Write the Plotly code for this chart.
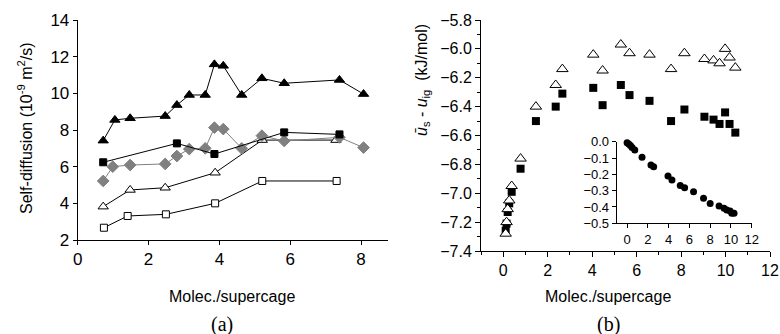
import plotly.graph_objects as go

# ---------- panel (a) data ----------
tri_f_x = [0.72, 1.05, 1.48, 2.47, 2.80, 3.15, 3.60, 3.86, 4.11, 4.63, 5.20, 5.83, 7.39, 8.07]
tri_f_y = [7.42, 8.55, 8.64, 8.76, 9.36, 9.91, 9.91, 11.58, 11.50, 9.91, 10.82, 10.55, 10.73, 9.96]

sq_f_x = [0.72, 2.80, 3.86, 5.83, 7.39]
sq_f_y = [6.24, 7.27, 6.69, 7.87, 7.76]

dia_x = [0.72, 0.99, 1.48, 2.47, 2.80, 3.15, 3.60, 3.86, 4.11, 4.63, 5.20, 5.83, 7.39, 8.07]
dia_y = [5.22, 6.00, 6.09, 6.15, 6.58, 6.96, 7.00, 8.13, 8.05, 7.00, 7.69, 7.40, 7.60, 7.04]

tri_o_x = [0.72, 1.48, 2.47, 3.88, 5.21, 7.29]
tri_o_y = [3.82, 4.73, 4.85, 5.67, 7.45, 7.45]

sq_o_x = [0.74, 1.41, 2.49, 3.88, 5.21, 7.31]
sq_o_y = [2.67, 3.31, 3.40, 4.00, 5.22, 5.22]

# ---------- panel (b) data ----------
b_x = [0.11, 0.15, 0.20, 0.27, 0.38, 0.78, 1.47, 2.36, 2.66, 4.05, 4.47, 5.29,
       5.68, 6.58, 7.55, 8.15, 9.05, 9.46, 9.73, 9.98, 10.18, 10.44]
b_tri_y = [-7.28, -7.20, -7.11, -7.05, -6.95, -6.76, -6.40, -6.25, -6.14, -6.04, -6.15, -5.97,
           -6.03, -6.04, -6.14, -6.03, -6.07, -6.08, -6.10, -6.00, -6.06, -6.13]
b_sq_y = [-7.26, -7.21, -7.13, -7.07, -6.99, -6.83, -6.50, -6.40, -6.31, -6.27, -6.39, -6.25,
          -6.32, -6.36, -6.50, -6.42, -6.47, -6.49, -6.52, -6.44, -6.52, -6.58]

ins_x = [0.0, 0.16, 0.32, 0.48, 0.74, 1.44, 2.30, 2.56, 3.94, 4.32, 5.12, 5.54, 6.40,
         7.36, 8.00, 8.86, 9.34, 9.60, 9.92, 10.08, 10.30]
ins_y = [-0.006, -0.014, -0.024, -0.035, -0.051, -0.096, -0.143, -0.153, -0.210, -0.235,
         -0.269, -0.282, -0.306, -0.347, -0.378, -0.394, -0.408, -0.418, -0.424, -0.439, -0.439]

FONT = "Arial, Liberation Sans, sans-serif"
SERIF = "Times New Roman, Liberation Serif, serif"

fig = go.Figure()

def line_trace(x, y, symbol, fill, size, lc="black", mlc="black"):
    return go.Scatter(x=x, y=y, mode="lines+markers", xaxis="x", yaxis="y",
                      line=dict(color=lc, width=1),
                      marker=dict(symbol=symbol, size=size, color=fill,
                                  line=dict(color=mlc, width=1)),
                      cliponaxis=False, showlegend=False)

fig.add_trace(line_trace(sq_o_x, sq_o_y, "square", "white", 7))
fig.add_trace(line_trace(tri_o_x, tri_o_y, "triangle-up", "white", 9))
fig.add_trace(line_trace(dia_x, dia_y, "diamond", "#808080", 9, lc="#808080", mlc="#808080"))
fig.add_trace(line_trace(sq_f_x, sq_f_y, "square", "black", 7))
fig.add_trace(line_trace(tri_f_x, tri_f_y, "triangle-up", "black", 9))

fig.add_trace(go.Scatter(x=b_x, y=b_sq_y, mode="markers", xaxis="x2", yaxis="y2",
                         marker=dict(symbol="square", size=8, color="black"),
                         cliponaxis=False, showlegend=False))
fig.add_trace(go.Scatter(x=b_x, y=b_tri_y, mode="markers", xaxis="x2", yaxis="y2",
                         marker=dict(symbol="triangle-up", size=10, color="white",
                                     line=dict(color="black", width=1)),
                         cliponaxis=False, showlegend=False))
fig.add_trace(go.Scatter(x=ins_x, y=ins_y, mode="markers", xaxis="x3", yaxis="y3",
                         marker=dict(symbol="circle", size=7, color="black"),
                         cliponaxis=False, showlegend=False))

W, H = 780, 334
def px(x): return x / W
def py(y): return 1 - y / H

def axis_common(size):
    return dict(showline=True, linecolor="black", linewidth=1, showgrid=False,
                zeroline=False, ticks="outside", tickcolor="black",
                ticklabeloverflow="allow", automargin=False,
                tickfont=dict(family=FONT, size=size, color="black"))
inset_common = dict(showline=True, linecolor="black", linewidth=1, showgrid=False,
                    zeroline=False, ticks="outside", tickcolor="black", ticklen=4,
                    automargin=False,
                    tickfont=dict(family=FONT, size=13, color="black"))

fig.update_layout(
    width=W, height=H, margin=dict(l=0, r=0, t=0, b=0, autoexpand=False),
    paper_bgcolor="white", plot_bgcolor="white",
    xaxis=dict(domain=[px(77.7), px(388)], range=[0, 8.76], anchor="y",
               tickvals=[0, 2, 4, 6, 8], ticklen=4, **axis_common(17)),
    yaxis=dict(domain=[py(240), py(20)], range=[2, 14], anchor="x",
               tickvals=[2, 4, 6, 8, 10, 12, 14], ticklen=4, **axis_common(17)),
    xaxis2=dict(domain=[px(481), px(770)], range=[-1, 12], anchor="y2",
                tickvals=[0, 2, 4, 6, 8, 10, 12], ticklen=5,
                minor=dict(dtick=1, tick0=0, ticks="outside", ticklen=3, tickcolor="black"),
                **axis_common(16)),
    yaxis2=dict(domain=[py(251), py(20)], range=[-7.4, -5.8], anchor="x2",
                tickvals=[-7.4, -7.2, -7.0, -6.8, -6.6, -6.4, -6.2, -6.0, -5.8],
                tickformat=".1f", ticklen=5,
                minor=dict(dtick=0.1, tick0=0, ticks="outside", ticklen=3, tickcolor="black"),
                **axis_common(16)),
    xaxis3=dict(domain=[px(616.7), px(751.7)], range=[-1, 12], anchor="y3",
                tickvals=[0, 2, 4, 6, 8, 10, 12], **inset_common),
    yaxis3=dict(domain=[py(223.3), py(141.7)], range=[-0.5, 0.0], anchor="x3",
                tickvals=[-0.5, -0.4, -0.3, -0.2, -0.1, 0.0], tickformat=".1f",
                **inset_common),
)

ann = [
    dict(x=px(231.7), y=py(296.7), text="Molec./supercage", font=dict(family=FONT, size=16)),
    dict(x=px(608), y=py(296.7), text="Molec./supercage", font=dict(family=FONT, size=16)),
    dict(x=px(221.7), y=py(324), text="(a)", font=dict(family=SERIF, size=20)),
    dict(x=px(608), y=py(324), text="(b)", font=dict(family=SERIF, size=20)),
    dict(x=px(25), y=py(128), text="Self-diffusion (10<sup>-9</sup> m<sup>2</sup>/s)",
         textangle=-90, font=dict(family=FONT, size=16)),
    dict(x=px(422), y=py(80),
         text="<i>u\u0304</i><sub>s</sub> - <i>u</i><sub>ig</sub>  (kJ/mol)",
         textangle=-90, font=dict(family=FONT, size=16)),
]
for a in ann:
    a.update(xref="paper", yref="paper", showarrow=False, xanchor="center", yanchor="middle")
    a["font"]["color"] = "black"
fig.update_layout(annotations=ann)

fig.write_html("out.html", config={"displayModeBar": False},
               post_script="document.body.style.margin='0';document.body.style.overflow='hidden';")
